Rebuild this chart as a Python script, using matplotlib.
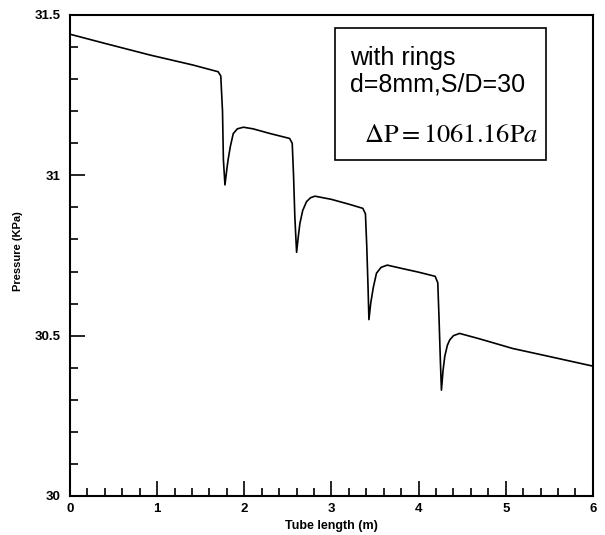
import numpy as np
import matplotlib.pyplot as plt
from matplotlib.ticker import MultipleLocator

# data (tube length in m, pressure in KPa)
x_len = [0, 0.42, 0.92, 1.41, 1.70, 1.73, 1.75, 1.76, 1.778,
         1.80, 1.815, 1.84, 1.873, 1.92, 1.99, 2.1, 2.3, 2.52, 2.55, 2.565, 2.58, 2.60,
         2.62, 2.638, 2.67, 2.714, 2.76, 2.81, 3.0, 3.2, 3.36, 3.39, 3.405, 3.42, 3.43,
         3.45, 3.48, 3.517, 3.57, 3.64, 3.8, 4.0, 4.19, 4.22, 4.235, 4.25, 4.262,
         4.28, 4.30, 4.33, 4.358, 4.40, 4.47, 4.7, 5.08, 5.5, 6.0]
p_kpa = [31.44, 31.41, 31.375, 31.344, 31.323, 31.31, 31.20, 31.05, 30.97,
         31.02, 31.05, 31.09, 31.13, 31.145, 31.15, 31.145, 31.13, 31.115, 31.10, 31.00, 30.87, 30.76,
         30.81, 30.85, 30.89, 30.918, 30.93, 30.935, 30.925, 30.91, 30.897, 30.88, 30.78, 30.65, 30.55,
         30.60, 30.65, 30.695, 30.713, 30.72, 30.71, 30.698, 30.685, 30.665, 30.55, 30.42, 30.33,
         30.39, 30.435, 30.47, 30.487, 30.50, 30.507, 30.49, 30.46, 30.435, 30.405]

ytick_vals = [30, 30.5, 31, 31.5]
ytick_labels = ['30', '30.5', '31', '31.5']
xtick_vals = [0, 1, 2, 3, 4, 5, 6]

plt.rcParams['font.family'] = 'Liberation Sans'
plt.rcParams['mathtext.fontset'] = 'stix'

fig = plt.figure(figsize=(6.05, 5.35), dpi=100)
ax = fig.add_axes([0.1157, 0.0729, 0.8643, 0.8991])

ax.plot(x_len, p_kpa, color='black', linewidth=1.2)

ax.set_xlim(0, 6)
ax.set_ylim(30, 31.5)
ax.set_xticks(xtick_vals)
ax.set_yticks(ytick_vals)
ax.set_yticklabels(ytick_labels)
ax.xaxis.set_minor_locator(MultipleLocator(0.2))
ax.yaxis.set_minor_locator(MultipleLocator(0.1))
ax.tick_params(which='both', direction='in', top=False, right=False, width=1.2)
ax.tick_params(which='major', length=11)
ax.tick_params(which='minor', length=5.5)
ax.tick_params(axis='x', which='major', pad=5)
ax.tick_params(axis='y', which='major', pad=7)
for lab in ax.get_xticklabels() + ax.get_yticklabels():
    lab.set_fontsize(9.5)
    lab.set_fontweight('bold')
for sp in ax.spines.values():
    sp.set_linewidth(1.5)

ax.set_xlabel('Tube length (m)', fontsize=9, fontweight='bold', labelpad=4)
ax.set_ylabel('Pressure (KPa)', fontsize=8, fontweight='bold')
ax.yaxis.set_label_coords(-0.09, 0.509)

# annotation box
ax.add_patch(plt.Rectangle((0.507, 0.699), 0.403, 0.274, transform=ax.transAxes,
                           fill=False, edgecolor='black', linewidth=1.2))
ax.text(0.535, 0.896, 'with rings', transform=ax.transAxes, fontsize=18, va='baseline')
ax.text(0.535, 0.840, 'd=8mm,S/D=30', transform=ax.transAxes, fontsize=18, va='baseline')
ax.text(0.562, 0.736, r'$\Delta\mathrm{P}=1061.16\mathrm{P}a$', transform=ax.transAxes,
        fontsize=19, va='baseline')

plt.savefig('out.png', dpi=100)
